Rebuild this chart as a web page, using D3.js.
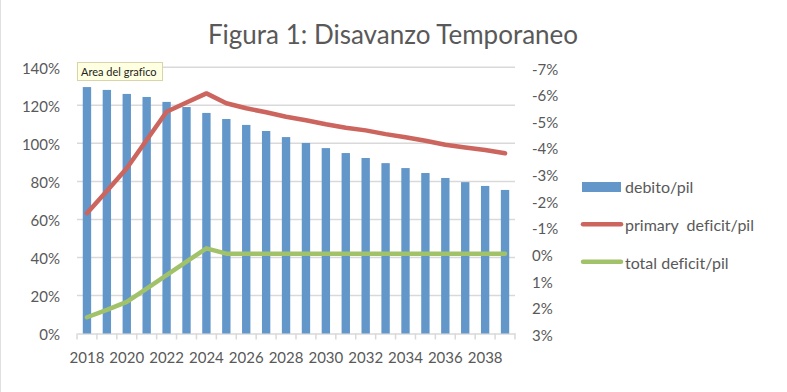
<!DOCTYPE html>
<html>
<head>
<meta charset="utf-8">
<script src="https://cdn.jsdelivr.net/npm/d3@7"></script>
<style>
html,body{margin:0;padding:0;background:#fff;}
svg{display:block;}
text{font-family:Lato,"Open Sans",sans-serif;fill:#595959;font-variant-ligatures:none;}
</style>
</head>
<body>
<svg id="chart" width="787" height="392"></svg>
<script>
const years = [2018,2019,2020,2021,2022,2023,2024,2025,2026,2027,2028,2029,2030,2031,2032,2033,2034,2035,2036,2037,2038,2039];
const debitoPil = [129.6,128.1,126.0,124.4,121.8,119.1,116.0,112.8,109.7,106.5,103.3,100.2,97.5,94.9,92.3,89.6,87.0,84.4,81.8,79.6,77.6,75.5];
const primaryDeficitPil = [-1.52,-2.35,-3.21,-4.27,-5.33,-5.68,-6.02,-5.65,-5.46,-5.31,-5.14,-5.01,-4.86,-4.73,-4.63,-4.49,-4.37,-4.24,-4.09,-3.99,-3.89,-3.77];
const totalDeficitPil = [2.39,2.11,1.81,1.31,0.81,0.30,-0.20,0.0,0.0,0.0,0.0,0.0,0.0,0.0,0.0,0.0,0.0,0.0,0.0,0.0,0.0,0.0];
const leftTicks = [0,20,40,60,80,100,120,140];
const rightTicks = [3,2,1,0,-1,-2,-3,-4,-5,-6,-7];
const xLabelYears = [2018,2020,2022,2024,2026,2028,2030,2032,2034,2036,2038];
const title = "Figura 1: Disavanzo Temporaneo";
const seriesNames = ["debito/pil","primary  deficit/pil","total deficit/pil"];
const colors = {blue:"#6396c9", red:"#cc655e", green:"#a2c26a", grid:"#d9d9d9"};

const svg = d3.select("#chart");
const plot = {left:77, right:515, top:67.3, bottom:333.5};

const x = d3.scaleBand().domain(years).range([plot.left, plot.right]).padding(0);
const yL = d3.scaleLinear().domain([0,140]).range([plot.bottom, plot.top]);
const yR = d3.scaleLinear().domain([3,-7]).range([plot.bottom, plot.top]);

// chart border line on left
svg.append("line").attr("x1",0.5).attr("x2",0.5).attr("y1",0).attr("y2",392)
  .attr("stroke","#e0e0e0").attr("stroke-width",1);

// title
svg.append("text").attr("x",393).attr("y",44).attr("text-anchor","middle")
  .style("font-size","26px").text(title);

// gridlines
svg.append("g").selectAll("line").data(leftTicks.filter(d=>d>0)).join("line")
  .attr("x1",plot.left).attr("x2",plot.right)
  .attr("y1",d=>yL(d)).attr("y2",d=>yL(d))
  .attr("stroke",colors.grid).attr("stroke-width",1.5);

// x axis
const xAxis = d3.axisBottom(x).tickSize(0).tickFormat(d=>xLabelYears.includes(d)?String(d):"");
const gx = svg.append("g").attr("transform",`translate(0,${plot.bottom})`).call(xAxis);
gx.select(".domain").attr("stroke",colors.grid).attr("stroke-width",1.5);
gx.selectAll("text").attr("dy",null).attr("y",29).style("font-size","15px").style("fill","#595959");
// tick marks at band boundaries
const edges = years.map(d=>x(d)).concat([x(years[years.length-1])+x.bandwidth()]);
svg.append("g").selectAll("line").data(edges).join("line")
  .attr("x1",d=>d).attr("x2",d=>d).attr("y1",plot.bottom).attr("y2",plot.bottom+6)
  .attr("stroke",colors.grid).attr("stroke-width",1.5);

// left axis
const gl = svg.append("g").attr("transform",`translate(60,0)`)
  .call(d3.axisLeft(yL).tickValues(leftTicks).tickSize(0).tickPadding(0).tickFormat(d=>d+"%"));
gl.select(".domain").remove();
gl.selectAll("text").attr("dy","0.4em").style("font-size","15px").style("fill","#595959");

// right axis
const gr = svg.append("g").attr("transform",`translate(532,0)`)
  .call(d3.axisRight(yR).tickValues(rightTicks).tickSize(0).tickPadding(0).tickFormat(d=>d+"%"));
gr.select(".domain").remove();
gr.selectAll("text").attr("dy","0.45em").style("font-size","15px").style("fill","#595959");

// bars
const barW = x.bandwidth()*0.42;
svg.append("g").selectAll("rect").data(years).join("rect")
  .attr("x",(d)=>x(d)+x.bandwidth()/2-barW/2)
  .attr("width",barW)
  .attr("y",(d,i)=>yL(debitoPil[i]))
  .attr("height",(d,i)=>plot.bottom-yL(debitoPil[i]))
  .attr("fill",colors.blue);

// lines
const line = d3.line().x(d=>x(d[0])+x.bandwidth()/2).y(d=>yR(d[1]));
svg.append("path").datum(years.map((y,i)=>[y,primaryDeficitPil[i]]))
  .attr("d",line).attr("fill","none").attr("stroke",colors.red)
  .attr("stroke-width",4.5).attr("stroke-linejoin","round").attr("stroke-linecap","round");
svg.append("path").datum(years.map((y,i)=>[y,totalDeficitPil[i]]))
  .attr("d",line).attr("fill","none").attr("stroke",colors.green)
  .attr("stroke-width",4.5).attr("stroke-linejoin","round").attr("stroke-linecap","round");

// legend
const lg = svg.append("g");
lg.append("rect").attr("x",582).attr("y",182).attr("width",39).attr("height",10).attr("fill",colors.blue);
lg.append("text").attr("x",625).attr("y",193).style("font-size","16px").text(seriesNames[0]);
lg.append("line").attr("x1",583).attr("x2",621).attr("y1",224.3).attr("y2",224.3)
  .attr("stroke",colors.red).attr("stroke-width",4.5).attr("stroke-linecap","round");
lg.append("text").attr("x",625).attr("y",231).style("font-size","16px").style("white-space","pre").attr("xml:space","preserve").text(seriesNames[1]);
lg.append("line").attr("x1",583).attr("x2",621).attr("y1",261.7).attr("y2",261.7)
  .attr("stroke",colors.green).attr("stroke-width",4.5).attr("stroke-linecap","round");
lg.append("text").attr("x",625).attr("y",269).style("font-size","16px").text(seriesNames[2]);

// tooltip "Area del grafico"
const tip = svg.append("g");
tip.append("rect").attr("x",77.5).attr("y",62.5).attr("width",85).attr("height",18)
  .attr("fill","#ffffe1").attr("stroke","#d8d6a8").attr("stroke-width",1);
tip.append("text").attr("x",81).attr("y",75.5).style("font-size","11px").style("fill","#222")
  .text("Area del grafico");
</script>
</body>
</html>
